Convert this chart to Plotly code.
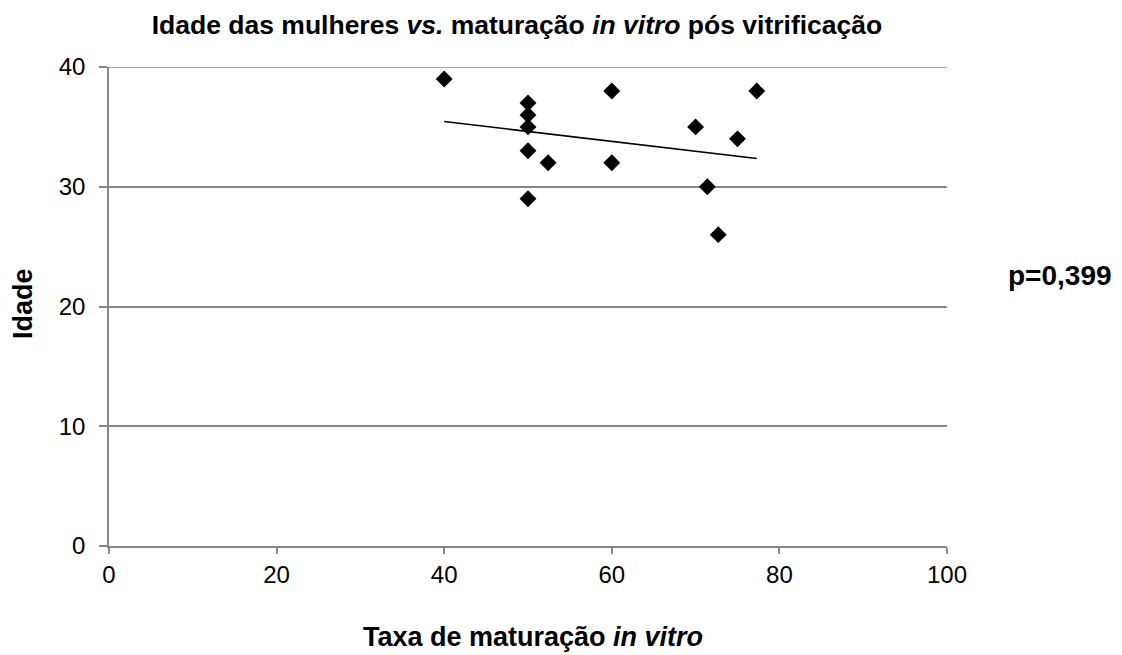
import numpy as np
import plotly.graph_objects as go

# In vitro maturation rate (%) and age of each woman
taxa_maturacao = [40.0, 50.0, 50.0, 50.0, 50.0, 50.0, 52.4, 60.0, 60.0, 70.0, 71.4, 72.7, 75.0, 77.3]
idade = [39, 37, 36, 35, 33, 29, 32, 38, 32, 35, 30, 26, 34, 38]

x_ticks = [0, 20, 40, 60, 80, 100]
y_ticks = [0, 10, 20, 30, 40]
p_label = "p=0,399"

# Least-squares linear trend line over the data range
slope, intercept = np.polyfit(taxa_maturacao, idade, 1)
trend_x = [min(taxa_maturacao), max(taxa_maturacao)]
trend_y = [slope * v + intercept for v in trend_x]

FONT = "Liberation Sans, Arial, sans-serif"
GRID = "#878787"

L, R, T, B = 109, 175, 67, 109
W, H = 1122, 655
plot_w = W - L - R
plot_h = H - T - B


def px_x(px):
    return (px - L) / plot_w


def px_y(px):
    return (H - B - px) / plot_h


fig = go.Figure()
fig.add_trace(go.Scatter(
    x=taxa_maturacao, y=idade, mode="markers",
    marker=dict(symbol="diamond", size=13, color="black", line=dict(width=0)),
    showlegend=False, hoverinfo="x+y",
))
fig.add_trace(go.Scatter(
    x=trend_x, y=trend_y, mode="lines",
    line=dict(color="black", width=1.6),
    showlegend=False, hoverinfo="skip",
))

# top gridline at the upper end of the y range
fig.add_shape(type="line", xref="paper", yref="y", x0=0, x1=1, y0=y_ticks[-1], y1=y_ticks[-1],
              line=dict(color=GRID, width=1.5), layer="below")

fig.update_layout(
    width=W, height=H,
    margin=dict(l=L, r=R, t=T, b=B, autoexpand=False),
    paper_bgcolor="white", plot_bgcolor="white",
    font=dict(family=FONT, color="black"),
    title=dict(
        text="<b>Idade das mulheres <i>vs.</i> maturação <i>in vitro</i> pós vitrificação</b>",
        font=dict(size=26.5, family=FONT, color="black"),
        x=517 / W, xanchor="center", y=1 - 25 / H, yanchor="middle",
    ),
    xaxis=dict(
        range=[0, 100], tickvals=x_ticks, ticktext=[str(v) for v in x_ticks],
        showgrid=False, zeroline=False, automargin=False,
        showline=True, linecolor=GRID, linewidth=1.5,
        ticks="outside", ticklen=6, tickcolor=GRID, tickwidth=1.5,
        tickfont=dict(size=24, family=FONT, color="black"),
    ),
    yaxis=dict(
        range=[0, 40], tickvals=y_ticks, ticktext=[str(v) for v in y_ticks],
        showgrid=True, gridcolor=GRID, gridwidth=1.5, zeroline=False, automargin=False,
        showline=True, linecolor=GRID, linewidth=1.5,
        ticks="outside", ticklen=8, tickcolor=GRID, tickwidth=1.5,
        ticklabelstandoff=9,
        tickfont=dict(size=24, family=FONT, color="black"),
    ),
    annotations=[
        dict(text="<b>Taxa de maturação <i>in vitro</i></b>",
             x=px_x(533), y=px_y(637), xref="paper", yref="paper",
             showarrow=False, font=dict(size=27, family=FONT, color="black"),
             xanchor="center", yanchor="middle"),
        dict(text="<b>Idade</b>", textangle=-90,
             x=px_x(23), y=px_y(304), xref="paper", yref="paper",
             showarrow=False, font=dict(size=27, family=FONT, color="black"),
             xanchor="center", yanchor="middle"),
        dict(text="<b>" + p_label + "</b>",
             x=px_x(1060), y=px_y(275), xref="paper", yref="paper",
             showarrow=False, font=dict(size=28, family=FONT, color="black"),
             xanchor="center", yanchor="middle"),
    ],
)

fig.write_html("out.html")
